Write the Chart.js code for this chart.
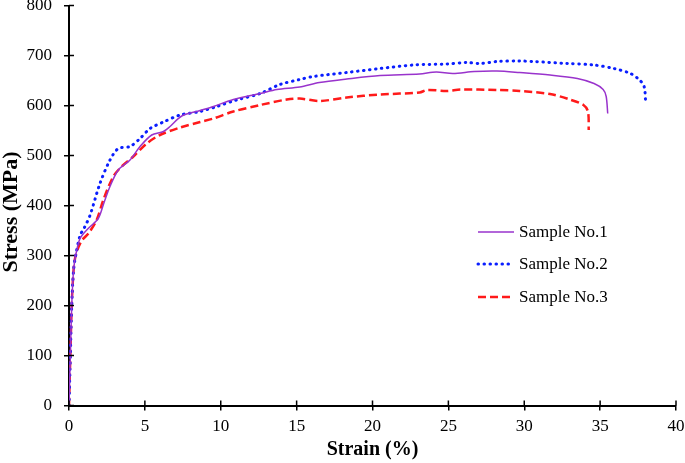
<!DOCTYPE html>
<html>
<head>
<meta charset="utf-8">
<script src="https://cdn.jsdelivr.net/npm/chart.js@4/dist/chart.umd.min.js"></script>
<style>
  html, body { margin: 0; padding: 0; background: #fff; }
  #wrap { width: 685px; height: 463px; }
</style>
</head>
<body>
<div id="wrap"><canvas id="chart" width="685" height="463"></canvas></div>
<script>
// Strain (%) and stress (MPa)
const strain1 = [0, 0.09, 0.18, 0.3, 0.44, 0.73, 1.3, 1.93, 2.3, 2.7, 3.25, 4.02, 4.68, 5.45, 6.22, 6.66, 7.43, 8.64, 9.52, 10.83, 12.6, 13.7, 15.2, 16.5, 18.3, 20.5, 23.1, 24.2, 25.3, 26.7, 28.2, 29.7, 31.7, 33.5, 34.6, 35.2, 35.4, 35.5];
const stress1 = [0, 100, 200, 270, 300, 334, 355, 374, 405, 438, 471, 491, 518, 541, 548, 558, 579, 590, 598, 612, 624, 632, 637, 646, 653, 660, 663, 667, 664, 668, 669, 666, 661, 654, 644, 632, 618, 584];

const strain2 = [0, 0.09, 0.18, 0.3, 0.44, 0.73, 1.0, 1.38, 2.04, 2.7, 3.25, 4.02, 4.68, 5.34, 6.22, 7.32, 8.64, 9.74, 11.05, 12.6, 13.9, 15.2, 16.1, 18.3, 20.5, 22.7, 24.9, 26.2, 27.1, 28.2, 29.7, 30.6, 32.8, 34.6, 35.9, 37.0, 37.6, 37.9, 38.0];
const stress2 = [0, 100, 200, 270, 300, 340, 355, 380, 444, 491, 514, 518, 534, 554, 567, 581, 588, 598, 611, 624, 642, 652, 658, 666, 674, 681, 683, 686, 684, 688, 689, 688, 684, 681, 674, 664, 651, 638, 608];

const strain3 = [0, 0.09, 0.18, 0.3, 0.44, 0.8, 1.3, 1.82, 2.26, 2.92, 3.47, 4.24, 5.12, 5.99, 7.32, 8.64, 9.52, 10.83, 12.6, 14.35, 15.2, 16.5, 18.3, 20.5, 23.1, 23.6, 24.9, 25.8, 28.2, 29.7, 31.7, 33.0, 33.9, 34.2, 34.25];
const stress3 = [0, 100, 200, 270, 300, 328, 345, 371, 411, 458, 478, 498, 524, 541, 556, 567, 574, 588, 601, 612, 614, 609, 616, 622, 626, 631, 629, 632, 631, 629, 623, 612, 601, 588, 551];

const seriesNames = ['Sample No.1', 'Sample No.2', 'Sample No.3'];
const xTicks = [0, 5, 10, 15, 20, 25, 30, 35, 40];
const yTicks = [0, 100, 200, 300, 400, 500, 600, 700, 800];

const pts = (xs, ys) => xs.map((x, i) => ({ x: x, y: ys[i] }));
const serif = "'Liberation Serif', 'Times New Roman', serif";

// ticks that cross the axis line, y title, legend inside the plot
const extras = {
  id: 'extras',
  afterDraw(chart) {
    const ctx = chart.ctx;
    const { x, y } = chart.scales;
    const area = chart.chartArea;
    ctx.save();
    ctx.strokeStyle = '#000';
    ctx.lineWidth = 1.5;
    ctx.beginPath();
    xTicks.forEach(v => {
      const px = x.getPixelForValue(v);
      ctx.moveTo(px, area.bottom);
      ctx.lineTo(px, area.bottom - 5);
    });
    yTicks.forEach(v => {
      const py = y.getPixelForValue(v);
      ctx.moveTo(area.left, py);
      ctx.lineTo(area.left + 5, py);
    });
    ctx.stroke();

    // y title, sits a little below the middle in the original
    ctx.save();
    ctx.translate(11, 212);
    ctx.rotate(-Math.PI / 2);
    ctx.font = 'bold 22px ' + serif;
    ctx.fillStyle = '#000';
    ctx.textAlign = 'center';
    ctx.textBaseline = 'middle';
    ctx.fillText('Stress (MPa)', 0, 0);
    ctx.restore();

    // legend
    const rows = [232, 264, 297];
    ctx.font = '17px ' + serif;
    ctx.textBaseline = 'middle';
    ctx.fillStyle = '#000';
    chart.data.datasets.forEach((ds, i) => {
      ctx.strokeStyle = ds.borderColor;
      ctx.lineWidth = ds.borderWidth;
      ctx.lineCap = ds.borderCapStyle || 'butt';
      ctx.setLineDash(ds.borderDash || []);
      ctx.beginPath();
      ctx.moveTo(478, rows[i]);
      ctx.lineTo(514, rows[i]);
      ctx.stroke();
      ctx.setLineDash([]);
      ctx.fillText(ds.label, 519, rows[i] + 1);
    });
    ctx.restore();
  }
};

new Chart(document.getElementById('chart'), {
  type: 'line',
  data: {
    datasets: [{
      label: seriesNames[0],
      data: pts(strain1, stress1),
      borderColor: '#9933cc',
      borderWidth: 1.5,
      tension: 0.3
    }, {
      label: seriesNames[1],
      data: pts(strain2, stress2),
      borderColor: '#0a1eff',
      borderWidth: 3,
      borderDash: [0.5, 5.5],
      borderCapStyle: 'round',
      tension: 0.3
    }, {
      label: seriesNames[2],
      data: pts(strain3, stress3),
      borderColor: '#ff1a1a',
      borderWidth: 2.5,
      borderDash: [8, 4],
      tension: 0.3
    }]
  },
  options: {
    responsive: false,
    animation: false,
    elements: { point: { radius: 0 } },
    layout: { autoPadding: false, padding: { top: 5.5, right: 9, bottom: 0, left: 0 } },
    plugins: { legend: { display: false }, tooltip: { enabled: false } },
    scales: {
      x: {
        type: 'linear',
        min: 0, max: 40,
        afterFit: s => { s.height = 57.5; s.paddingLeft = 0; s.paddingRight = 0; },
        afterBuildTicks: s => { s.ticks = xTicks.map(v => ({ value: v })); },
        ticks: { color: '#000', font: { family: serif, size: 17 }, padding: 6, maxRotation: 0 },
        grid: { drawOnChartArea: false, color: '#000', lineWidth: 1.5, tickLength: 5 },
        border: { color: '#000', width: 2 },
        title: { display: true, text: 'Strain (%)', color: '#000', font: { family: serif, size: 20, weight: 'bold' }, padding: { top: 0, bottom: 1 } }
      },
      y: {
        min: 0, max: 800,
        afterFit: s => { s.width = 69; s.paddingTop = 0; s.paddingBottom = 0; },
        afterBuildTicks: s => { s.ticks = yTicks.map(v => ({ value: v })); },
        ticks: { color: '#000', font: { family: serif, size: 17 }, padding: 12 },
        grid: { drawOnChartArea: false, color: '#000', lineWidth: 1.5, tickLength: 5 },
        border: { color: '#000', width: 2 }
      }
    }
  },
  plugins: [extras]
});
</script>
</body>
</html>
